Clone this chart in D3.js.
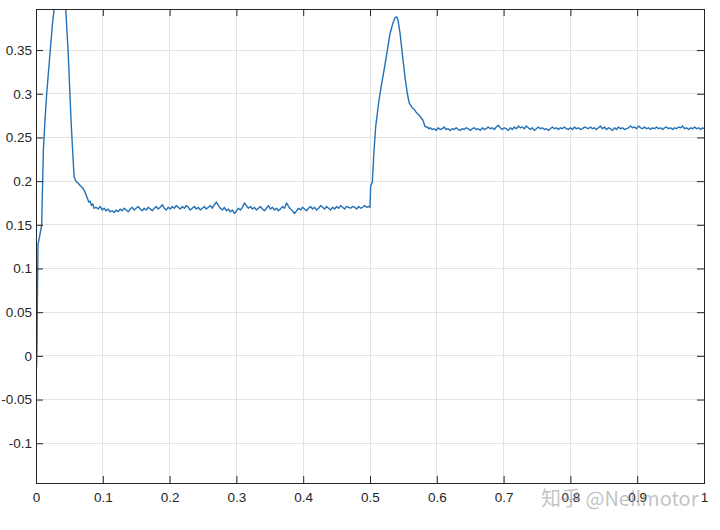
<!DOCTYPE html>
<html><head><meta charset="utf-8">
<script src="https://cdn.jsdelivr.net/npm/d3@7"></script>
<style>body{margin:0;background:#fff;}svg{display:block;}</style>
</head><body>
<svg id="chart" width="720" height="530"></svg>
<script>
// ---- data ----
const xTicks = [0,0.1,0.2,0.3,0.4,0.5,0.6,0.7,0.8,0.9,1];
const yTicks = [-0.1,-0.05,0,0.05,0.1,0.15,0.2,0.25,0.3,0.35];
const startTransient = [[0,-0.004],[0.0008,-0.013],[0.0015,0.01],[0.002,0.06],[0.003,0.128],[0.005,0.135],[0.0085,0.15],[0.011,0.235],[0.0135,0.27],[0.016,0.30],[0.0245,0.379],[0.0305,0.42],[0.036,0.44],[0.0405,0.42],[0.0445,0.397],[0.048,0.35],[0.0524,0.27],[0.057,0.205],[0.059,0.201],[0.061,0.199],[0.064,0.197],[0.066,0.195],[0.069,0.193],[0.071,0.191],[0.073,0.188],[0.075,0.184],[0.077,0.180],[0.079,0.176],[0.081,0.177],[0.083,0.172],[0.085,0.174],[0.087,0.169]];
const steady1Start = 0.09, steadyStep = 0.003;
const steady1 = [0.170,0.168,0.171,0.167,0.169,0.166,0.168,0.165,0.166,0.164,
0.167,0.165,0.168,0.166,0.169,0.167,0.165,0.168,0.170,0.167,
0.169,0.171,0.168,0.166,0.169,0.167,0.170,0.168,0.166,0.169,
0.171,0.168,0.170,0.173,0.169,0.167,0.170,0.168,0.171,0.169,
0.172,0.170,0.168,0.171,0.169,0.172,0.170,0.167,0.169,0.171,
0.168,0.170,0.167,0.169,0.171,0.168,0.170,0.172,0.169,0.173,
0.176,0.172,0.169,0.167,0.170,0.166,0.168,0.165,0.167,0.163,
0.166,0.169,0.167,0.170,0.175,0.172,0.169,0.171,0.168,0.170,
0.167,0.169,0.171,0.168,0.166,0.169,0.172,0.168,0.170,0.167,
0.169,0.166,0.168,0.171,0.169,0.175,0.171,0.168,0.166,0.163,
0.166,0.169,0.167,0.170,0.168,0.166,0.169,0.171,0.168,0.170,
0.167,0.169,0.172,0.170,0.168,0.171,0.169,0.167,0.170,0.168,
0.171,0.169,0.172,0.170,0.168,0.171,0.170,0.169,0.171,0.170,
0.168,0.171,0.169,0.170,0.172,0.170,0.171];
const stepTransient = [[0.5,0.170],[0.501,0.194],[0.5035,0.199],[0.506,0.235],[0.5085,0.262],[0.513,0.29],[0.5175,0.312],[0.5215,0.329],[0.526,0.35],[0.53,0.369],[0.534,0.38],[0.5374,0.387],[0.54,0.388],[0.542,0.384],[0.545,0.369],[0.5485,0.345],[0.5524,0.319],[0.5559,0.300],[0.5589,0.289],[0.561,0.287],[0.563,0.284],[0.565,0.283],[0.5674,0.281],[0.569,0.279],[0.571,0.277],[0.573,0.276],[0.575,0.274],[0.577,0.272],[0.579,0.27],[0.581,0.266],[0.582,0.263],[0.584,0.262],[0.586,0.262],[0.588,0.260]];
const steady2Start = 0.59;
const steady2 = [0.261,0.259,0.260,0.258,0.261,0.259,0.260,0.262,0.259,0.260,
0.258,0.260,0.259,0.261,0.259,0.258,0.260,0.259,0.261,0.260,
0.258,0.260,0.261,0.259,0.260,0.258,0.261,0.259,0.260,0.262,
0.260,0.261,0.259,0.262,0.264,0.261,0.259,0.261,0.260,0.258,
0.261,0.259,0.262,0.260,0.263,0.261,0.262,0.260,0.263,0.261,
0.259,0.261,0.258,0.260,0.262,0.260,0.261,0.259,0.260,0.258,
0.260,0.262,0.260,0.261,0.259,0.261,0.260,0.262,0.260,0.259,
0.261,0.259,0.262,0.260,0.261,0.259,0.260,0.262,0.261,0.260,
0.262,0.260,0.261,0.259,0.261,0.263,0.260,0.262,0.259,0.261,
0.260,0.258,0.261,0.259,0.262,0.260,0.261,0.259,0.260,0.261,
0.263,0.261,0.262,0.260,0.263,0.261,0.260,0.262,0.260,0.261,
0.259,0.261,0.260,0.262,0.260,0.261,0.259,0.261,0.262,0.260,
0.261,0.259,0.261,0.260,0.262,0.261,0.263,0.260,0.261,0.259,
0.261,0.260,0.262,0.260,0.261,0.259,0.261,0.260];
const watermark = "知乎 @Neilmotor";

// ---- build series ----
const series = [
  ...startTransient,
  ...steady1.map((v,i)=>[steady1Start+i*steadyStep, v]),
  ...stepTransient,
  ...steady2.map((v,i)=>[steady2Start+i*steadyStep, v])
];

// ---- layout ----
const L=36, R=704, T=9, B=483;
const svg = d3.select("#chart");
const x = d3.scaleLinear().domain([0,1]).range([L,R]);
const y = d3.scaleLinear().domain([-0.1455,0.397]).range([B,T]);
const font = "'Liberation Sans', Arial, Helvetica, sans-serif";
const fmt = v => String(+v.toFixed(2));

// grid
svg.append("g").selectAll("line").data(xTicks.slice(1,-1)).join("line")
  .attr("x1",d=>x(d)).attr("x2",d=>x(d)).attr("y1",T).attr("y2",B)
  .attr("stroke","#e3e3e3").attr("stroke-width",1).attr("shape-rendering","crispEdges");
svg.append("g").selectAll("line").data(yTicks).join("line")
  .attr("x1",L).attr("x2",R).attr("y1",d=>y(d)).attr("y2",d=>y(d))
  .attr("stroke","#e3e3e3").attr("stroke-width",1).attr("shape-rendering","crispEdges");

// clip
svg.append("clipPath").attr("id","clip").append("rect")
  .attr("x",L).attr("y",T).attr("width",R-L).attr("height",B-T);

// line
svg.append("path").datum(series)
  .attr("clip-path","url(#clip)")
  .attr("fill","none").attr("stroke","#2270b5").attr("stroke-width",1.4)
  .attr("stroke-linejoin","round")
  .attr("d", d3.line().x(d=>x(d[0])).y(d=>y(d[1])));

// axes (inward ticks on all sides)
const tl = 7;
const axB = svg.append("g").attr("transform",`translate(0,${B})`)
  .call(d3.axisBottom(x).tickValues(xTicks).tickSizeInner(-tl).tickSizeOuter(0).tickPadding(9).tickFormat(fmt));
const axT = svg.append("g").attr("transform",`translate(0,${T})`)
  .call(d3.axisTop(x).tickValues(xTicks).tickSizeInner(-tl).tickSizeOuter(0).tickFormat(""));
const axL = svg.append("g").attr("transform",`translate(${L},0)`)
  .call(d3.axisLeft(y).tickValues(yTicks).tickSizeInner(-tl).tickSizeOuter(0).tickPadding(4).tickFormat(fmt));
const axR = svg.append("g").attr("transform",`translate(${R},0)`)
  .call(d3.axisRight(y).tickValues(yTicks).tickSizeInner(-tl).tickSizeOuter(0).tickFormat(""));
[axB,axT,axL,axR].forEach(a=>{
  a.select(".domain").attr("stroke","#262626");
  a.selectAll(".tick line").attr("stroke","#262626");
  a.selectAll("text").attr("font-family",font).attr("font-size",13.5).attr("fill","#262626");
});

// box
svg.append("rect").attr("x",L).attr("y",T).attr("width",R-L).attr("height",B-T)
  .attr("fill","none").attr("stroke","#262626").attr("stroke-width",1).attr("shape-rendering","crispEdges");

// watermark
svg.append("text").attr("x",541).attr("y",506)
  .attr("font-family","'Noto Sans CJK SC', 'Liberation Sans', sans-serif")
  .attr("font-size",20).attr("fill","#9a9a9a").attr("fill-opacity",0.6)
  .text(watermark);
</script>
</body></html>
